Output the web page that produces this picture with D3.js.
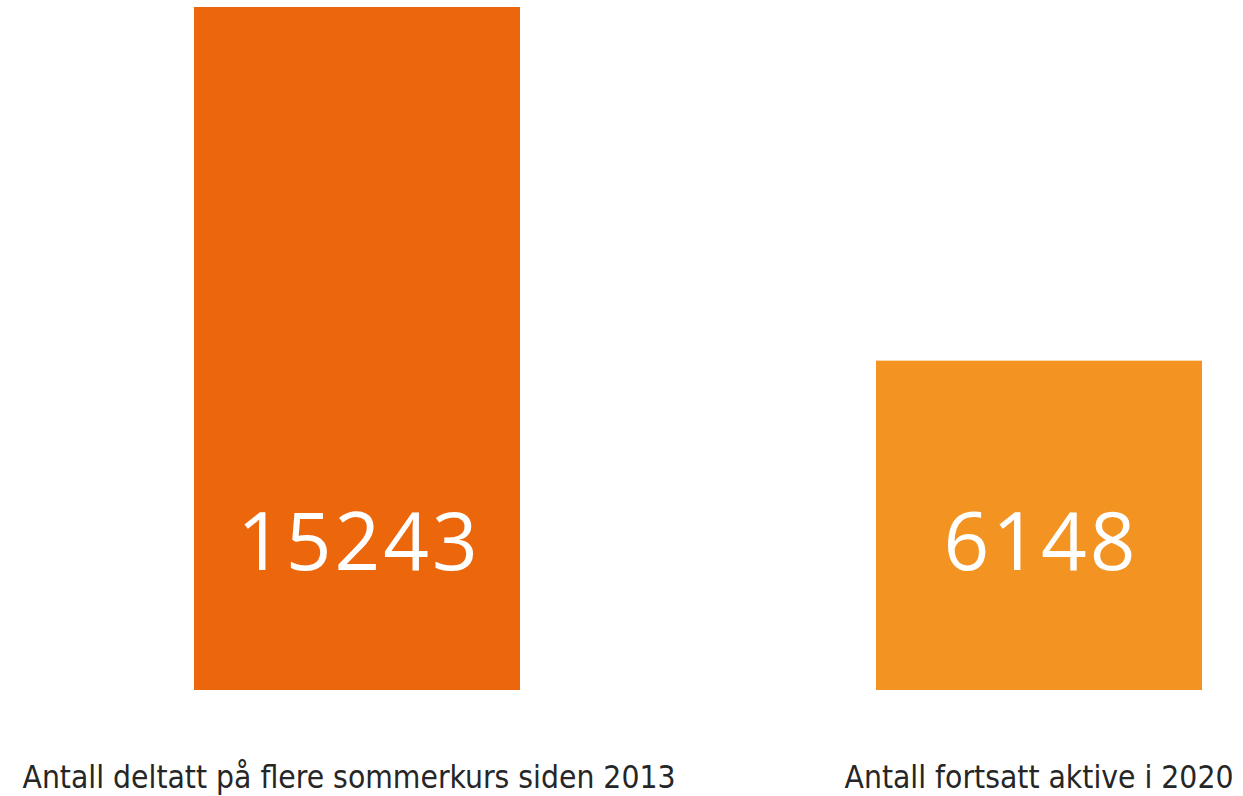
<!DOCTYPE html>
<html>
<head>
<meta charset="utf-8">
<script src="https://cdn.jsdelivr.net/npm/d3@7"></script>
<style>
  body { margin: 0; background: #fff; }
</style>
</head>
<body>
<svg id="chart" width="1243" height="796"></svg>
<script>
var categories = ["Antall deltatt på flere sommerkurs siden 2013", "Antall fortsatt aktive i 2020"];
var values = [15243, 6148];
var colors = ["#ec670b", "#f39322"];

var svg = d3.select("#chart");
var margin = {top: 7, right: 41, bottom: 106, left: 194};
var width = +svg.attr("width") - margin.left - margin.right;
var height = +svg.attr("height") - margin.top - margin.bottom;

var g = svg.append("g").attr("transform", "translate(" + margin.left + "," + margin.top + ")");

var x = d3.scaleBand()
        .domain(categories)
        .range([0, width])
        .paddingInner(0.522)
        .paddingOuter(0);

// axis max sits below the first value, so that bar is clipped at the top
var y = d3.scaleLinear()
        .domain([0, 12750])
        .range([height, 0])
        .clamp(true);

g.selectAll(".bar")
        .data(values)
        .enter().append("rect")
        .attr("class", "bar")
        .attr("x", function (d, i) { return x(categories[i]); })
        .attr("y", function (d) { return y(d); })
        .attr("width", x.bandwidth())
        .attr("height", function (d) { return height - y(d); })
        .attr("fill", function (d, i) { return colors[i]; });

g.selectAll(".val")
        .data(values)
        .enter().append("text")
        .attr("class", "val")
        .attr("x", function (d, i) { return x(categories[i]) + x.bandwidth() / 2 + 2; })
        .attr("y", 563)
        .attr("text-anchor", "middle")
        .attr("fill", "#fff")
        .style("font-family", "'Open Sans', sans-serif")
        .style("font-size", "80px")
        .style("letter-spacing", "3px")
        .text(function (d) { return d; });

g.selectAll(".cat")
        .data(categories)
        .enter().append("text")
        .attr("class", "cat")
        .attr("x", function (d, i) { return x(d) + x.bandwidth() / 2 - (i == 0 ? 8 : 0); })
        .attr("y", 781)
        .attr("text-anchor", "middle")
        .attr("fill", "#262626")
        .style("font-family", "'DejaVu Sans Condensed', 'DejaVu Sans', sans-serif")
        .style("font-size", "31.5px")
        .text(function (d) { return d; });
</script>
</body>
</html>
